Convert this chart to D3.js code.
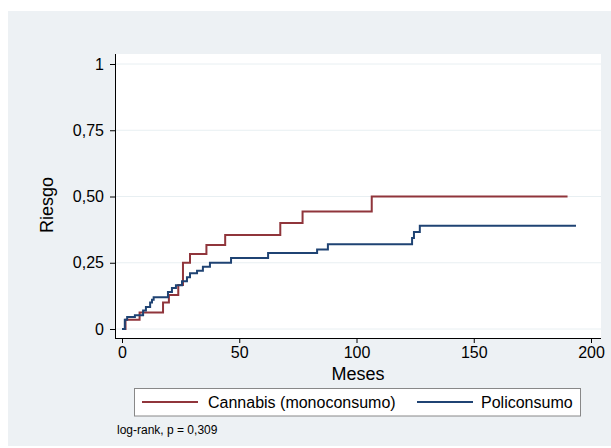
<!DOCTYPE html>
<html>
<head>
<meta charset="utf-8">
<script src="https://cdn.jsdelivr.net/npm/d3@7/dist/d3.min.js"></script>
<style>
  html, body { margin: 0; padding: 0; background: #ffffff; }
  svg { display: block; }
  text { font-family: "Liberation Sans", Arial, Helvetica, sans-serif; fill: #000; }
</style>
</head>
<body>
<svg id="chart" width="611" height="448"></svg>
<script>
// ---- Data ----
const seriesNames = ["Cannabis (monoconsumo)", "Policonsumo"];
const cannabisTimes = [0, 1.5, 7.5, 17.5, 20, 24, 26, 29, 36, 44, 67.5, 77, 106.5, 190];
const cannabisRisk  = [0, 0.035, 0.062, 0.10, 0.128, 0.166, 0.25, 0.283, 0.317, 0.355, 0.40, 0.443, 0.50, 0.50];
const poliTimes = [0, 1.2, 2.2, 5.5, 9, 10.2, 12, 12.8, 13.5, 19.6, 21.3, 23, 25.6, 27.7, 29, 32, 34.5, 37.5, 46.5, 62.3, 83.2, 87.8, 123.7, 124.5, 127, 193.6];
const poliRisk  = [0, 0.035, 0.045, 0.052, 0.07, 0.083, 0.10, 0.11, 0.12, 0.14, 0.155, 0.165, 0.18, 0.195, 0.21, 0.22, 0.235, 0.25, 0.268, 0.287, 0.30, 0.32, 0.343, 0.366, 0.39, 0.39];
const xTicks = [0, 50, 100, 150, 200];
const yTicks = [0, 0.25, 0.5, 0.75, 1];
const yTickLabels = ["0", "0,25", "0,50", "0,75", "1"];
const xTitle = "Meses";
const yTitle = "Riesgo";
const note = "log-rank, p = 0,309";
const colors = ["#90353b", "#1f4373"];

// ---- Layout ----
const svg = d3.select("#chart");
const plot = { left: 115, right: 601, top: 54, bottom: 338 };

svg.append("rect").attr("x", 8).attr("y", 11).attr("width", 611 - 8).attr("height", 446 - 11)
  .attr("fill", "#edf1f4");
svg.append("rect").attr("x", plot.left).attr("y", plot.top)
  .attr("width", plot.right - plot.left).attr("height", plot.bottom - plot.top)
  .attr("fill", "#ffffff");

const x = d3.scaleLinear().domain([0, 200]).range([122, 591]);
const y = d3.scaleLinear().domain([0, 1]).range([329, 64]);

// gridlines
svg.append("g").selectAll("line").data(yTicks).join("line")
  .attr("x1", plot.left + 1).attr("x2", plot.right)
  .attr("y1", d => y(d)).attr("y2", d => y(d))
  .attr("stroke", "#e8eff2").attr("stroke-width", 1);

// axes
const yAxis = d3.axisLeft(y).tickValues(yTicks)
  .tickFormat((d, i) => yTickLabels[i]).tickSize(5).tickPadding(6);
const gy = svg.append("g").attr("transform", `translate(${plot.left},0)`).call(yAxis);
gy.select(".domain").remove();
gy.selectAll("text").style("font-size", "16px").attr("font-family", null);
gy.selectAll("line").attr("stroke", "#000");

const xAxis = d3.axisBottom(x).tickValues(xTicks).tickSize(5).tickPadding(4);
const gx = svg.append("g").attr("transform", `translate(0,${plot.bottom})`).call(xAxis);
gx.select(".domain").remove();
gx.selectAll("text").style("font-size", "16px").attr("font-family", null);
gx.selectAll("line").attr("stroke", "#000");

svg.append("line").attr("x1", plot.left + 0.5).attr("x2", plot.left + 0.5)
  .attr("y1", plot.top).attr("y2", plot.bottom).attr("stroke", "#000");
svg.append("line").attr("x1", plot.left).attr("x2", plot.right)
  .attr("y1", plot.bottom + 0.5).attr("y2", plot.bottom + 0.5).attr("stroke", "#000");

// titles
svg.append("text").attr("x", 358).attr("y", 380).attr("text-anchor", "middle")
  .style("font-size", "18px").text(xTitle);
svg.append("text").attr("transform", "translate(53,205) rotate(-90)").attr("text-anchor", "middle")
  .style("font-size", "18px").text(yTitle);

// curves
const line = d3.line().x(d => x(d[0])).y(d => y(d[1])).curve(d3.curveStepAfter);
const series = [
  d3.zip(cannabisTimes, cannabisRisk),
  d3.zip(poliTimes, poliRisk)
];
svg.append("g").selectAll("path").data(series).join("path")
  .attr("d", line).attr("fill", "none")
  .attr("stroke", (d, i) => colors[i]).attr("stroke-width", 2);

// legend
svg.append("rect").attr("x", 134.5).attr("y", 388.5).attr("width", 446).attr("height", 27.5)
  .attr("fill", "#ffffff").attr("stroke", "#888").attr("stroke-width", 1);
const legendItems = [
  { x1: 142, x2: 198, tx: 208 },
  { x1: 417, x2: 473, tx: 481 }
];
legendItems.forEach((it, i) => {
  svg.append("line").attr("x1", it.x1).attr("x2", it.x2).attr("y1", 402).attr("y2", 402)
    .attr("stroke", colors[i]).attr("stroke-width", 2);
  svg.append("text").attr("x", it.tx).attr("y", 408).style("font-size", "16px").text(seriesNames[i]);
});

svg.append("text").attr("x", 117).attr("y", 434).style("font-size", "12px").text(note);
</script>
</body>
</html>
